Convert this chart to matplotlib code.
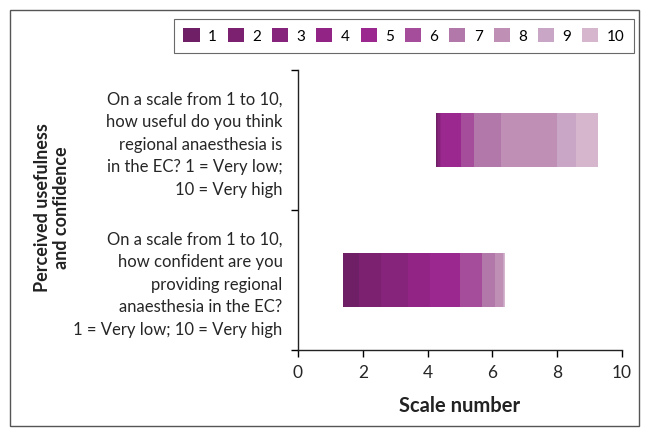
import matplotlib
matplotlib.use("Agg")
from matplotlib import pyplot as plt
from matplotlib.patches import Rectangle

plt.rcParams['font.family'] = ['Lato', 'DejaVu Sans']

questions = [
    "On a scale from 1 to 10,\nhow confident are you\nproviding regional\nanaesthesia in the EC?\n1 = Very low; 10 = Very high",
    "On a scale from 1 to 10,\nhow useful do you think\nregional anaesthesia is\nin the EC? 1 = Very low;\n10 = Very high",
]
scale_labels = ['1', '2', '3', '4', '5', '6', '7', '8', '9', '10']
# where each bar begins on the axis
bar_start = [1.38, 4.25]
# width of each scale segment, per question (confident, useful)
confident = [0.52, 0.65, 0.86, 0.65, 0.93, 0.68, 0.40, 0.25, 0.03, 0.04]
useful = [0.04, 0.04, 0.04, 0.04, 0.62, 0.40, 0.83, 1.73, 0.59, 0.68]
colors = ['#6f1f66', '#7b2170', '#86237a', '#912484', '#9b288e',
          '#a54d9b', '#b278a9', '#c08fb6', '#c9a6c5', '#d6b6cc']

fig = plt.figure(figsize=(6.49, 4.32), dpi=100)
ax = fig.add_axes([0.459, 0.19, 0.4995, 0.648])

segments = [confident, useful]
ypos = [0, 1]
for i in range(len(scale_labels)):
    lefts = []
    widths = []
    for j in range(len(segments)):
        lefts.append(bar_start[j] + sum(segments[j][:i]))
        widths.append(segments[j][i])
    ax.barh(ypos, widths, left=lefts, height=0.38, color=colors[i],
            label=scale_labels[i], linewidth=0)

ax.set_xlim(0, 10)
ax.set_ylim(-0.5, 1.5)
ax.set_xticks([0, 2, 4, 6, 8, 10])
ax.set_yticks(ypos)
ax.set_yticklabels(questions, fontsize=12, linespacing=1.5, color='#262626')
ax.set_yticks([-0.5, 0.5, 1.5], minor=True)
ax.tick_params(axis='y', which='major', length=0, pad=11)
ax.tick_params(axis='y', which='minor', length=5, direction='out', width=1)
ax.tick_params(axis='x', length=5, direction='out', width=1, labelsize=12.5,
               pad=6, labelcolor='#262626')
for s in ['top', 'right']:
    ax.spines[s].set_visible(False)
for s in ['left', 'bottom']:
    ax.spines[s].set_color('#222222')
    ax.spines[s].set_linewidth(1)

ax.set_xlabel('Scale number', fontsize=14.5, fontweight='bold', labelpad=11,
              color='#222222')
fig.text(0.080, 0.52, 'Perceived usefulness\nand confidence', rotation=90,
         ha='center', va='center', fontsize=13, fontweight='bold',
         linespacing=1.15, color='#222222')

leg = ax.legend(loc='center', bbox_to_anchor=(0.6225, 0.917), bbox_transform=fig.transFigure,
                ncol=10, frameon=True, fancybox=False, fontsize=11,
                handlelength=1.05, handleheight=1.05, handletextpad=0.55,
                columnspacing=0.72, borderpad=0.6)
leg.get_frame().set_edgecolor('#444444')
leg.get_frame().set_linewidth(0.8)

fig.patches.append(Rectangle((0.015, 0.015), 0.97, 0.963, transform=fig.transFigure,
                             fill=False, edgecolor='#555555', linewidth=1))

plt.savefig('out.png', dpi=100)
